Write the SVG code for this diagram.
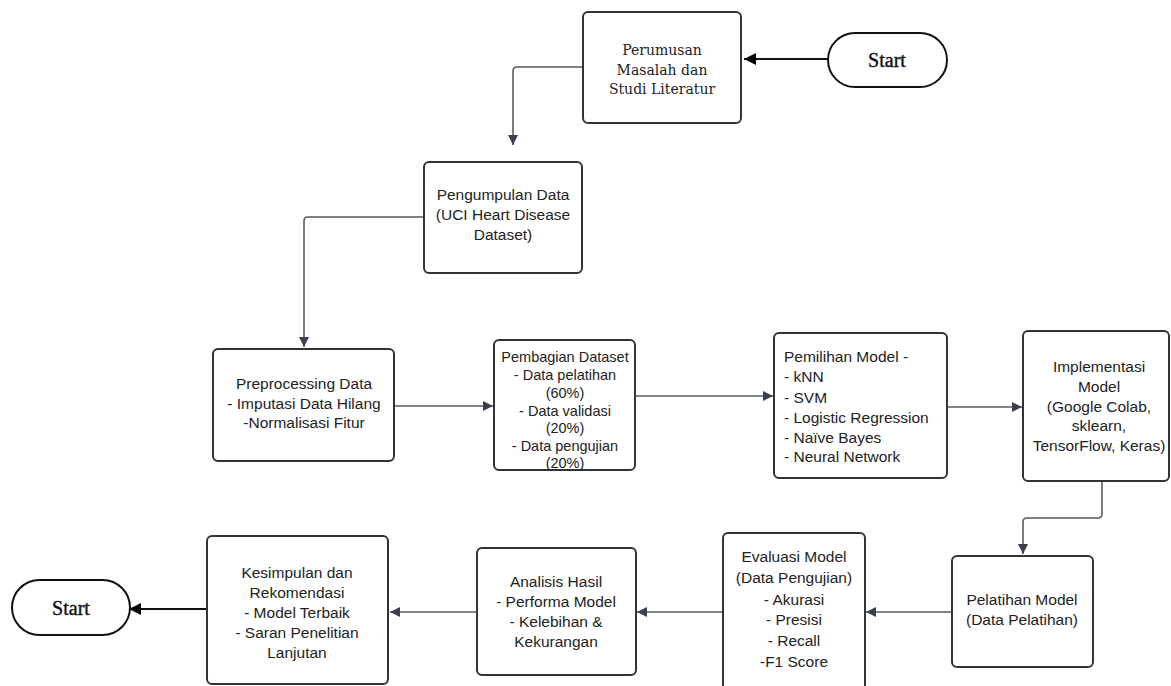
<svg xmlns="http://www.w3.org/2000/svg" width="1171" height="686" viewBox="0 0 1171 686">
  <style>
    .box { fill: #ffffff; stroke: #333333; stroke-width: 2; }
    .term { fill: #ffffff; stroke: #111111; stroke-width: 2; }
    .t { font-family: "Liberation Sans", Arial, sans-serif; font-size: 15.5px; fill: #222222; text-anchor: middle; }
    .tp { font-family: "Liberation Sans", Arial, sans-serif; font-size: 14.5px; fill: #222222; text-anchor: middle; }
    .tl { font-family: "Liberation Sans", Arial, sans-serif; font-size: 15.5px; fill: #222222; text-anchor: start; }
    .s { font-family: "DejaVu Serif", "Liberation Serif", serif; font-size: 14px; fill: #222222; text-anchor: middle; }
    .st { font-family: "Liberation Serif", "Times New Roman", serif; font-size: 20px; fill: #111111; stroke: #111111; stroke-width: 0.4; text-anchor: middle; }
    .c { fill: none; stroke: #555a63; stroke-width: 1.6; }
    .cb { fill: none; stroke: #111111; stroke-width: 1.8; }
  </style>
  <defs>
    <marker id="ag" viewBox="0 0 10 10" refX="10" refY="5" markerWidth="10" markerHeight="10" markerUnits="userSpaceOnUse" orient="auto">
      <path d="M0,0 L10,5 L0,10 Z" fill="#3b404a"/>
    </marker>
    <marker id="ab" viewBox="0 0 10 10" refX="10" refY="5" markerWidth="14" markerHeight="12" markerUnits="userSpaceOnUse" orient="auto">
      <path d="M0,0 L10,5 L0,10 Z" fill="#000000"/>
    </marker>
  </defs>

  <g id="connectors">
    <path class="cb" d="M828,59 L744,59" marker-end="url(#ab)"/>
    <path class="c" d="M583,67 L517,67 Q513,67 513,71 L513,145" marker-end="url(#ag)"/>
    <path class="c" d="M424,217 L308,217 Q304,217 304,221 L304,347" marker-end="url(#ag)"/>
    <path class="c" d="M394,406 L493,406" marker-end="url(#ag)"/>
    <path class="c" d="M635,396 L773,396" marker-end="url(#ag)"/>
    <path class="c" d="M947,407 L1022,407" marker-end="url(#ag)"/>
    <path class="c" d="M1102,482 L1102,514 Q1102,518 1098,518 L1027,518 Q1023,518 1023,522 L1023,554" marker-end="url(#ag)"/>
    <path class="c" d="M952,612 L866,612" marker-end="url(#ag)"/>
    <path class="c" d="M723,612 L637,612" marker-end="url(#ag)"/>
    <path class="c" d="M477,612 L390,612" marker-end="url(#ag)"/>
    <path class="cb" d="M207,609 L129,609" marker-end="url(#ab)"/>
  </g>

  <g id="start-top">
    <rect class="term" x="828" y="33" width="119" height="54" rx="27" ry="27"/>
    <text class="st" x="887" y="67">Start</text>
  </g>

  <g id="perumusan">
    <rect class="box" x="583" y="12" width="158" height="111" rx="5"/>
    <text class="s" x="662" y="55">Perumusan</text>
    <text class="s" x="662" y="75">Masalah dan</text>
    <text class="s" x="662" y="94">Studi Literatur</text>
  </g>

  <g id="pengumpulan">
    <rect class="box" x="424" y="162" width="158" height="111" rx="5"/>
    <text class="t" x="503" y="200">Pengumpulan Data</text>
    <text class="t" x="503" y="220">(UCI Heart Disease</text>
    <text class="t" x="503" y="240">Dataset)</text>
  </g>

  <g id="preprocessing">
    <rect class="box" x="213" y="349" width="181" height="112" rx="5"/>
    <text class="t" x="304" y="389">Preprocessing Data</text>
    <text class="t" x="304" y="409">- Imputasi Data Hilang</text>
    <text class="t" x="304" y="428">-Normalisasi Fitur</text>
  </g>

  <g id="pembagian">
    <rect class="box" x="494" y="340" width="141" height="130" rx="5"/>
    <text class="tp" x="565" y="362">Pembagian Dataset</text>
    <text class="tp" x="565" y="380">- Data pelatihan</text>
    <text class="tp" x="565" y="398">(60%)</text>
    <text class="tp" x="565" y="416">- Data validasi</text>
    <text class="tp" x="565" y="433">(20%)</text>
    <text class="tp" x="565" y="451">- Data pengujian</text>
    <text class="tp" x="565" y="468">(20%)</text>
  </g>

  <g id="pemilihan">
    <rect class="box" x="774" y="333" width="173" height="145" rx="5"/>
    <text class="tl" x="784" y="362">Pemilihan Model -</text>
    <text class="tl" x="784" y="382">- kNN</text>
    <text class="tl" x="784" y="403">- SVM</text>
    <text class="tl" x="784" y="423">- Logistic Regression</text>
    <text class="tl" x="784" y="443">- Naïve Bayes</text>
    <text class="tl" x="784" y="462">- Neural Network</text>
  </g>

  <g id="implementasi">
    <rect class="box" x="1023" y="331" width="146" height="150" rx="5"/>
    <text class="t" x="1099" y="372">Implementasi</text>
    <text class="t" x="1099" y="392">Model</text>
    <text class="t" x="1099" y="412">(Google Colab,</text>
    <text class="t" x="1099" y="431">sklearn,</text>
    <text class="t" x="1099" y="451">TensorFlow, Keras)</text>
  </g>

  <g id="pelatihan">
    <rect class="box" x="952" y="556" width="141" height="111" rx="5"/>
    <text class="t" x="1022" y="605">Pelatihan Model</text>
    <text class="t" x="1022" y="625">(Data Pelatihan)</text>
  </g>

  <g id="evaluasi">
    <rect class="box" x="723" y="533" width="142" height="170" rx="5"/>
    <text class="t" x="794" y="562">Evaluasi Model</text>
    <text class="t" x="794" y="583">(Data Pengujian)</text>
    <text class="t" x="794" y="605">- Akurasi</text>
    <text class="t" x="794" y="625">- Presisi</text>
    <text class="t" x="794" y="646">- Recall</text>
    <text class="t" x="794" y="667">-F1 Score</text>
  </g>

  <g id="analisis">
    <rect class="box" x="477" y="548" width="159" height="127" rx="5"/>
    <text class="t" x="556" y="587">Analisis Hasil</text>
    <text class="t" x="556" y="607">- Performa Model</text>
    <text class="t" x="556" y="627">- Kelebihan &amp;</text>
    <text class="t" x="556" y="647">Kekurangan</text>
  </g>

  <g id="kesimpulan">
    <rect class="box" x="207" y="536" width="181" height="148" rx="5"/>
    <text class="t" x="297" y="578">Kesimpulan dan</text>
    <text class="t" x="297" y="598">Rekomendasi</text>
    <text class="t" x="297" y="618">- Model Terbaik</text>
    <text class="t" x="297" y="638">- Saran Penelitian</text>
    <text class="t" x="297" y="658">Lanjutan</text>
  </g>

  <g id="start-bottom">
    <rect class="term" x="12" y="580" width="118" height="55" rx="27.5" ry="27.5"/>
    <text class="st" x="71" y="615">Start</text>
  </g>
</svg>
